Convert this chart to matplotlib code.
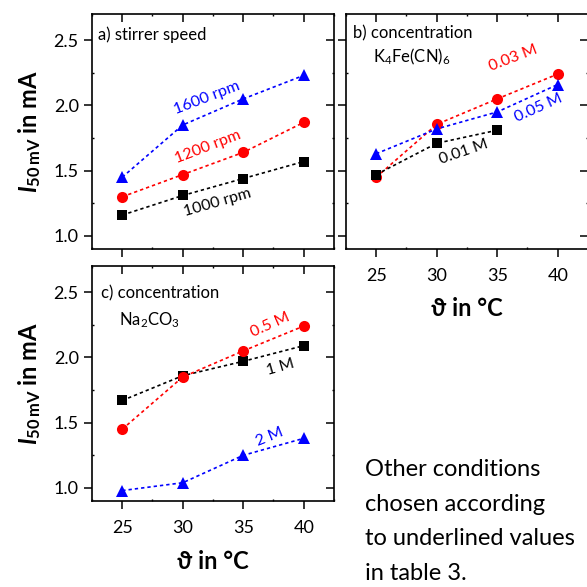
import numpy as np
import matplotlib
matplotlib.use("Agg")
import matplotlib.pyplot as plt
from matplotlib.ticker import MultipleLocator

plt.rcParams['font.family'] = ['Lato', 'DejaVu Sans']
plt.rcParams['mathtext.fontset'] = 'custom'
plt.rcParams['mathtext.rm'] = 'Lato'
plt.rcParams['mathtext.it'] = 'Lato:italic'
plt.rcParams['mathtext.bf'] = 'Lato:bold'
plt.rcParams['mathtext.bfit'] = 'Lato:italic:bold'

# temperatures
temp = [25, 30, 35, 40]

# a) stirrer speed
a_1600 = [1.45, 1.85, 2.05, 2.23]
a_1200 = [1.30, 1.47, 1.64, 1.87]
a_1000 = [1.16, 1.31, 1.44, 1.57]

# b) concentration K4Fe(CN)6
b_003 = [1.45, 1.855, 2.05, 2.24]
b_005 = [1.63, 1.82, 1.95, 2.16]
b_001 = [1.47, 1.71, 1.81]

# c) concentration Na2CO3
c_05 = [1.45, 1.85, 2.05, 2.24]
c_1 = [1.67, 1.86, 1.97, 2.09]
c_2 = [0.98, 1.04, 1.25, 1.38]

BLUE = '#0000ff'
RED = '#ff0000'
BLACK = '#000000'
ls = (0, (2, 1.8))
ylab = r'$\mathbfit{I}_{\mathbf{50\,mV}}$ in mA'
xlab = 'ϑ in °C'
FS = 12

fig = plt.figure(figsize=(5.87, 5.87), dpi=100)
W, H = 0.4123, 0.4003
axa = fig.add_axes([0.1567, 0.5758, W, H])
axb = fig.add_axes([0.5894, 0.5758, W, H])
axc = fig.add_axes([0.1567, 0.1465, W, H])


def style(ax, xlabels=True, ylabels=True):
    ax.set_xlim(22.5, 42.5)
    ax.set_ylim(0.9, 2.7)
    ax.xaxis.set_major_locator(MultipleLocator(5))
    ax.xaxis.set_minor_locator(MultipleLocator(2.5))
    ax.yaxis.set_major_locator(MultipleLocator(0.5))
    ax.yaxis.set_minor_locator(MultipleLocator(0.25))
    for s in ax.spines.values():
        s.set_linewidth(1.2)
    ax.tick_params(which='major', direction='out', length=6, width=1.1,
                   labelsize=13, pad=3.5)
    ax.tick_params(axis='x', which='major', pad=8)
    ax.tick_params(which='minor', direction='in', length=1.5, width=1.0)
    ax.tick_params(which='both', top=True, right=True)
    ax.tick_params(which='major', axis='both', labelbottom=xlabels,
                   labelleft=ylabels)
    # mirrored ticks point inward
    for t in ax.yaxis.get_major_ticks():
        t.tick2line.set_marker(matplotlib.lines.TICKLEFT)
    for t in ax.xaxis.get_major_ticks():
        t.tick2line.set_marker(matplotlib.lines.TICKDOWN)
    ax.yaxis.set_major_formatter(matplotlib.ticker.FormatStrFormatter('%.1f'))


def series(ax, y, color, marker, ms):
    ax.plot(temp[:len(y)], y, linestyle=ls, color=color, lw=1.2,
            marker=marker, markersize=ms, markeredgewidth=0)


# a)
style(axa, xlabels=False)
series(axa, a_1600, BLUE, '^', 9)
series(axa, a_1200, RED, 'o', 8)
series(axa, a_1000, BLACK, 's', 6.5)
axa.text(0.025, 0.889, 'a) stirrer speed', transform=axa.transAxes, fontsize=FS)
axa.text(32.0, 2.06, '1600 rpm', color=BLUE, rotation=21, fontsize=11.5,
         ha='center', va='center')
axa.text(32.1, 1.68, '1200 rpm', color=RED, rotation=21, fontsize=11.5,
         ha='center', va='center')
axa.text(32.9, 1.253, '1000 rpm', color=BLACK, rotation=16, fontsize=11.5,
         ha='center', va='center')
axa.set_ylabel(ylab, fontsize=17, fontweight='bold', labelpad=8)

# b)
style(axb, ylabels=False)
series(axb, b_003, RED, 'o', 8)
series(axb, b_005, BLUE, '^', 9)
series(axb, b_001, BLACK, 's', 6.5)
axb.text(0.029, 0.898, 'b) concentration', transform=axb.transAxes, fontsize=FS)
axb.text(0.112, 0.796, r'K$_4$Fe(CN)$_6$', transform=axb.transAxes, fontsize=FS)
axb.text(36.3, 2.363, '0.03 M', color=RED, rotation=21, fontsize=11.5,
         ha='center', va='center')
axb.text(38.45, 1.98, '0.05 M', color=BLUE, rotation=24, fontsize=11.5,
         ha='center', va='center')
axb.text(32.2, 1.643, '0.01 M', color=BLACK, rotation=19, fontsize=11.5,
         ha='center', va='center')
axb.set_xlabel(xlab, fontsize=17, fontweight='bold', labelpad=9)

# c)
style(axc)
series(axc, c_1, BLACK, 's', 6.5)
series(axc, c_05, RED, 'o', 8)
series(axc, c_2, BLUE, '^', 9)
axc.text(0.037, 0.864, 'c) concentration', transform=axc.transAxes, fontsize=FS)
axc.text(0.112, 0.749, r'Na$_2$CO$_3$', transform=axc.transAxes, fontsize=FS)
axc.text(37.2, 2.248, '0.5 M', color=RED, rotation=24, fontsize=11.5,
         ha='center', va='center')
axc.text(38.1, 1.927, '1 M', color=BLACK, rotation=16, fontsize=11.5,
         ha='center', va='center')
axc.text(37.2, 1.39, '2 M', color=BLUE, rotation=22, fontsize=11.5,
         ha='center', va='center')
axc.set_ylabel(ylab, fontsize=17, fontweight='bold', labelpad=8)
axc.set_xlabel(xlab, fontsize=17, fontweight='bold', labelpad=10)

fig.text(365 / 587, 1 - 459 / 587,
         'Other conditions\nchosen according\nto underlined values\nin table 3.',
         fontsize=17, ha='left', va='top', linespacing=1.8)

fig.savefig('out.png', dpi=100)
